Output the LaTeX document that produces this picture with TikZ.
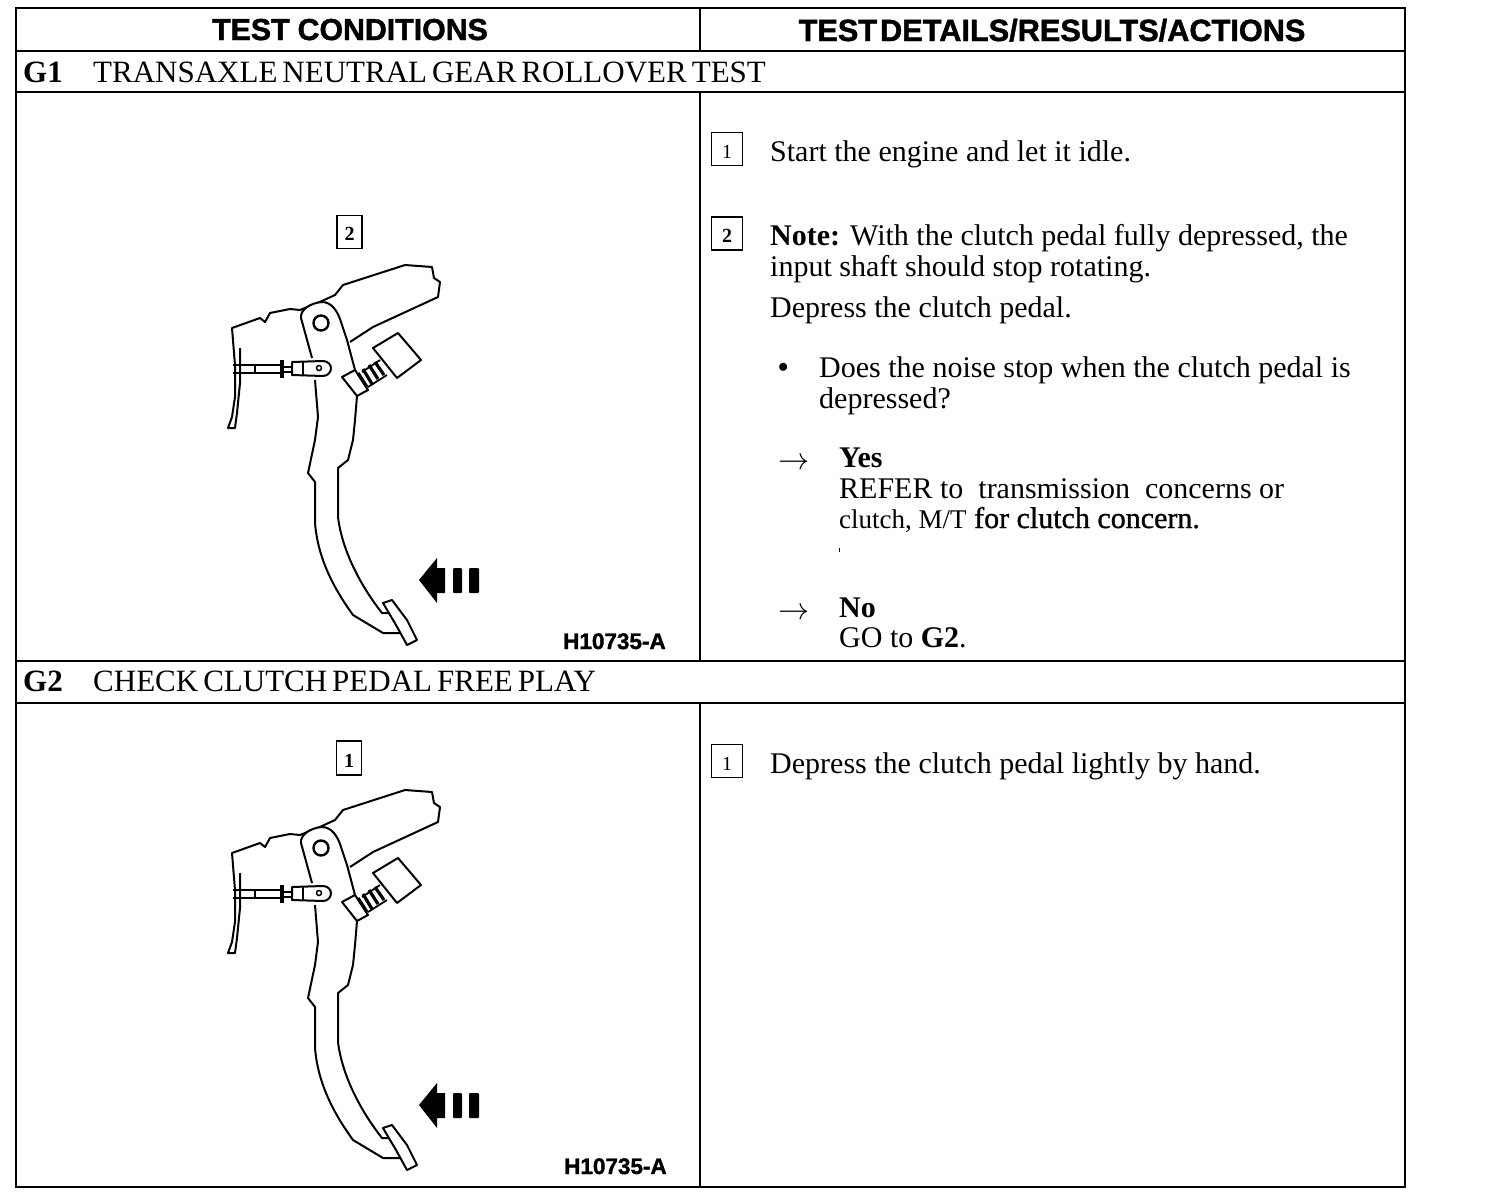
\documentclass[tikz,border=0pt]{standalone}
\usepackage{amsmath}
\usepackage{fontspec}
\usepackage{tikz}
\setmainfont{Liberation Serif}
\newfontfamily\headfont[BoldFeatures={FakeBold=1.5}]{Liberation Sans}
\newfontfamily\darkfont[FakeBold=1]{Liberation Serif}
\newcommand{\lowdigit}[2]{\smash{\raisebox{-#1pt}{#2}}}
\tikzset{
	txt/.style={anchor=base west, inner sep=0pt, font=\fontsize{30}{32}\selectfont},
	title/.style={anchor=base west, inner sep=0pt, font=\fontsize{31}{32}\selectfont\spaceskip 5pt\relax},
	head/.style={anchor=base, inner sep=0pt, font=\headfont\bfseries\fontsize{30.3}{32}\selectfont\spaceskip 8pt\relax},
	headwide/.style={anchor=base, inner sep=0pt, font=\headfont\bfseries\fontsize{30.7}{32}\selectfont\spaceskip 3pt\relax},
	numbox/.style={draw, line width=1.4pt, minimum width=31pt, minimum height=33pt, inner sep=0pt, font=\fontsize{20}{22}\selectfont},
	figbox/.style={numbox, minimum width=25pt},
	figcode/.style={anchor=base west, inner sep=0pt, font=\headfont\bfseries\fontsize{22.5}{24}\selectfont},
	arrowmark/.style={anchor=base west, inner sep=0pt, font=\fontsize{24.88}{26}\selectfont},
	rule/.style={line width=1.7pt},
	pedalline/.style={line width=2pt, line join=round},
	pics/pedal/.style={code={
		% bracket
		\draw[pedalline] (240,348) -- (240,383) -- (237,413) -- (235,428) -- (228,428) -- (232,417) -- (235,397) -- (235,365) -- (232,328)
			-- (260,318) -- (265,322) -- (270,313) -- (290,309) -- (300,310) -- (322,301) -- (335,295) -- (343,285)
			-- (405,265) -- (432,267) -- (434,278) -- (440,282) -- (438,297) -- (373,327) -- (350,342);
		% lever
		\draw[pedalline, fill=white] (312,358) -- (301,318) .. controls (300,310) and (310,303) .. (322,302)
			.. controls (332,302) and (338,312) .. (341,322) -- (347,340) -- (355,370);
		\draw[line width=2.4pt] (321,323) circle (7.5);
		\draw[pedalline] (315,380) -- (318,417) -- (315,440) -- (308,473) -- (315,482) -- (315,523)
			.. controls (318,560) and (335,590) .. (353,615) -- (383,633) -- (400,633);
		\draw[pedalline] (357,396) -- (355,420) -- (353,440) -- (348,460) -- (338,468) -- (338,517)
			.. controls (342,550) and (360,585) .. (382,613) -- (390,613);
		% pad
		\draw[pedalline, fill=white] (383,603) -- (392,600) -- (407,620) -- (417,640) -- (407,645) -- (396,625) -- cycle;
		% clevis
		\draw[line width=2.4pt] (233,365) -- (280,365);
		\draw[line width=1.5pt] (233,373) -- (280,373) (255,365) -- (255,373);
		\draw[line width=4pt] (282,360) -- (282,378);
		\draw[pedalline] (284,367) -- (292,367) (284,372) -- (292,372);
		\draw[pedalline, fill=white] (292,362) -- (323,361) .. controls (328,361) and (331,365) .. (331,368) .. controls (331,372) and (328,376) .. (323,376) -- (292,375) -- cycle;
		\draw[line width=1.5pt] (303,361) -- (303,376);
		\draw[line width=1.5pt] (319,368) circle (2.5);
		% stop and switch
		\draw[pedalline, fill=white] (342,377) -- (355,370) -- (368,390) -- (357,396) -- cycle;
		\draw[pedalline, fill=white] (373,348) -- (398,333) -- (421,360) -- (397,378) -- cycle;
		\draw[line width=3.2pt] (358,373) -- (367,387) (363,369) -- (372,384) (369,365) -- (378,379) (375,362) -- (384,375);
		\draw[line width=1.8pt] (362,372) -- (380,360) (368,387) -- (387,375);
		% press arrow
		\fill (419,580) -- (437,558) -- (437,568) -- (445,568) -- (445,593) -- (437,593) -- (437,603) -- cycle;
		\fill[rounded corners=1pt] (453,568) rectangle (462,593);
		\fill[rounded corners=1pt] (469,568) rectangle (479,593);
	}}
}
\begin{document}
\begin{tikzpicture}[x=1pt,y=-1pt]
	\useasboundingbox (0,0) rectangle (1504,1194);
	\def \colLeft {16};
	\def \colMid {700};
	\def \colRight {1405};

	\draw[rule] (\colLeft,8) rectangle (\colRight,1187);
	\draw[rule] (\colMid,8) -- (\colMid,51);
	\draw[rule] (\colMid,92) -- (\colMid,661);
	\draw[rule] (\colMid,703) -- (\colMid,1187);
	\foreach \y in {51,92,661,703}
		\draw[rule] (\colLeft,\y) -- (\colRight,\y);

	\node[head] (headLeft) at (350,40) {TEST CONDITIONS};
	\node[headwide] (headRight) at (1052,41) {TEST DETAILS/RESULTS/ACTIONS};

	\node[title] (gOneId) at (23,82) {\textbf{G1}};
	\node[title] (gOneTitle) at (93,82) {TRANSAXLE NEUTRAL GEAR ROLLOVER TEST};
	\node[title] (gTwoId) at (23,691) {\textbf{G2}};
	\node[title] (gTwoTitle) at (93,691) {CHECK CLUTCH PEDAL FREE PLAY};

	% first test
	\node[figbox] (gOneFig) at (349.5,232) {\lowdigit{8}{\textbf{2}}};
	\pic (pedalOne) at (0,0) {pedal};
	\node[figcode] (gOneCode) at (563,649) {H10735-A};

	\node[numbox] (stepOne) at (727,149) {\lowdigit{9}{1}};
	\node[txt] (stepOneText) at (770,161) {Start the engine and let it idle.};
	\node[numbox] (stepTwo) at (727,233.5) {\lowdigit{9}{\textbf{2}}};
	\node[txt] (noteA) at (770,245) {\textbf{Note:} With the clutch pedal fully depressed, the};
	\node[txt] (noteB) at (770,276) {input shaft should stop rotating.};
	\node[txt] (depress) at (770,317) {Depress the clutch pedal.};
	\node[anchor=base west, inner sep=0pt, font=\fontsize{20}{22}\selectfont] (bullet) at (778,372) {$\bullet$};
	\node[txt] (askA) at (819,377) {Does the noise stop when the clutch pedal is};
	\node[txt] (askB) at (819,408) {depressed?};
	\node[arrowmark] (yesArrow) at (778,469) {\scalebox{1.25}{$\rightarrow$}};
	\node[txt] (yes) at (839,467.5) {\textbf{Yes}};
	\node[txt] (yesA) at (839,498) {REFER to\ \ transmission\ \ concerns or};
	\node[txt] (yesB) at (839,528) {{\fontsize{27}{28}\selectfont clutch, M/T} {\darkfont for clutch concern.}};
	\draw[line width=1pt] (839,548) -- (839,552);
	\node[arrowmark] (noArrow) at (778,619) {\scalebox{1.25}{$\rightarrow$}};
	\node[txt] (no) at (839,617) {\textbf{No}};
	\node[txt] (goTo) at (839,647) {GO to \textbf{G2}.};

	% second test
	\node[figbox, minimum height=34pt] (gTwoFig) at (349,758) {\lowdigit{9}{\textbf{1}}};
	\pic (pedalTwo) at (0,525) {pedal};
	\node[figcode] (gTwoCode) at (564,1174) {H10735-A};

	\node[numbox] (stepThree) at (727,761) {\lowdigit{9}{1}};
	\node[txt] (stepThreeText) at (770,773) {Depress the clutch pedal lightly by hand.};
\end{tikzpicture}
\end{document}
